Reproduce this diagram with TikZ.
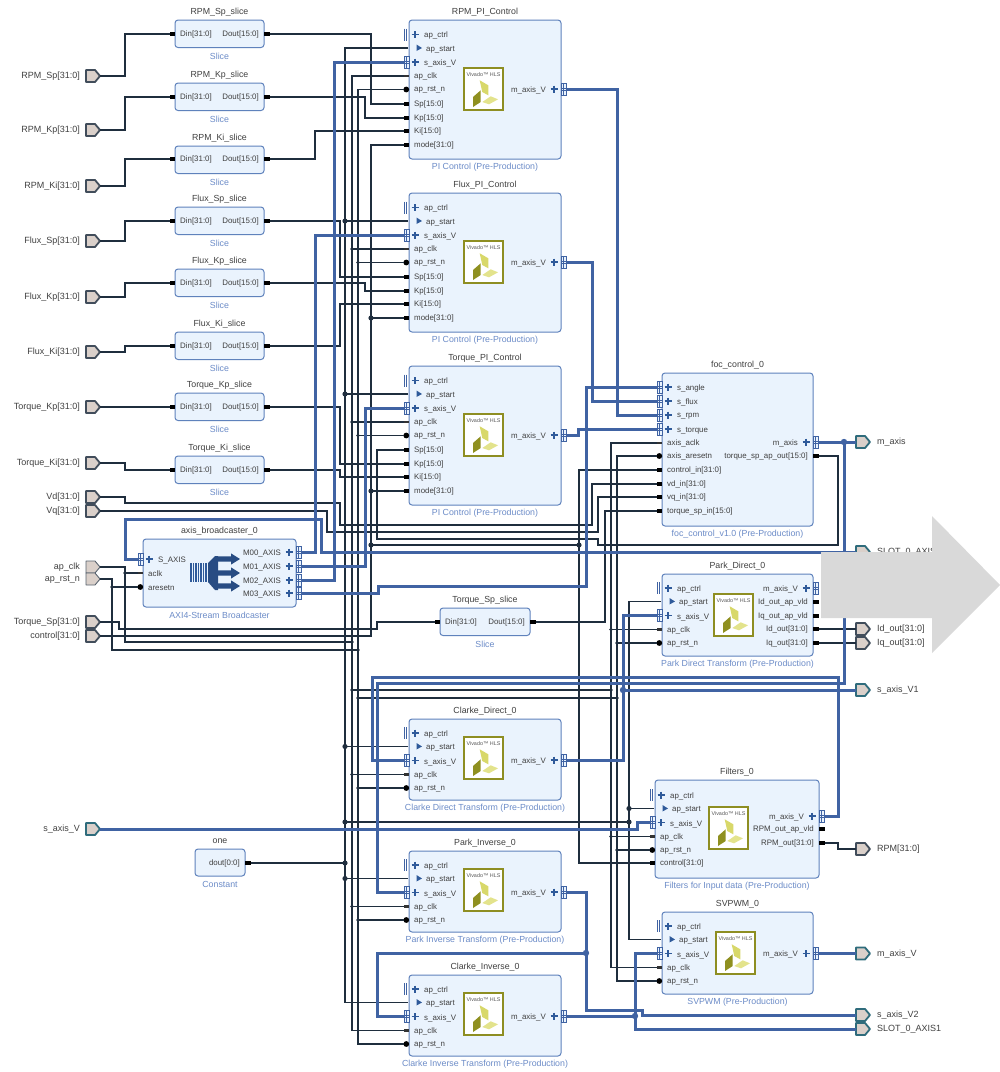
\documentclass[tikz,border=0pt]{standalone}
\usepackage{fontspec}
\setmainfont{Liberation Sans}
\definecolor{blockfill}{HTML}{EAF3FD}
\definecolor{blockedge}{HTML}{5F82BC}
\definecolor{txt}{HTML}{404040}
\definecolor{subc}{HTML}{6C8CC8}
\definecolor{wire}{HTML}{1F2E3E}
\definecolor{axib}{HTML}{4063A3}
\definecolor{plusc}{HTML}{2F5A9A}
\definecolor{tan}{HTML}{DAD0CA}
\definecolor{tealc}{HTML}{2F6C7C}
\definecolor{arrowg}{HTML}{D9D9D9}
\definecolor{logoedge}{HTML}{8E8E22}
\definecolor{logoa}{HTML}{D8D86A}
\definecolor{logob}{HTML}{8F9020}
\definecolor{logoc}{HTML}{E3E38C}
\tikzset{
  blockbox/.style={draw=blockedge,fill=blockfill,line width=1pt,rounded corners=3pt,inner sep=0pt,outer sep=0pt},
  blocktitle/.style={font=\fontsize{8.8}{9}\selectfont,text=txt,inner sep=0pt,yshift=-0.6pt},
  blocksub/.style={font=\fontsize{8.8}{9}\selectfont,text=subc,inner sep=0pt,yshift=-0.6pt},
  plabel/.style={font=\fontsize{7.9}{8}\selectfont,text=txt,inner sep=0pt,yshift=-0.6pt},
  extlabel/.style={font=\fontsize{9}{9}\selectfont,text=txt,inner sep=0pt,yshift=-0.6pt},
  bus/.style={draw=wire,line width=2.2pt},
  startbus/.style={draw=wire,line width=1.7pt},
  sig/.style={draw=wire,line width=1.05pt},
  axi/.style={draw=axib,line width=3pt},
  plusmark/.style={draw=plusc,line width=1.2pt},
  extbus/.style={draw=wire!85,fill=tan,line width=1.8pt,line join=round},
  extaxi/.style={draw=tealc,fill=tan,line width=1.8pt,line join=round},
  extsig/.style={draw=wire!75,fill=tan,line width=0.9pt,line join=round},
}
\newcommand{\jsig}[1]{\fill[wire] (#1) circle (1.8pt);}
\newcommand{\jbus}[1]{\fill[wire] (#1) circle (2.6pt);}
\newcommand{\jaxi}[1]{\fill[axib] (#1) circle (3.2pt);}
% block
\newcommand{\blk}[7]{%
  \pgfmathsetmacro{\blkW}{#4-#2}\pgfmathsetmacro{\blkH}{#5-#3}%
  \node[blockbox,anchor=north west,minimum width=\blkW pt,minimum height=\blkH pt] (#1) at (#2,#3) {};
  \node[blocktitle] (#1-title) at ({(#2+#4)/2},#3-8) {#6};
  \node[blocksub] (#1-sub) at ({(#2+#4)/2},#5+8) {#7};
}
\newcommand{\plusat}[2]{\draw[plusmark] (#1-3.5,#2) -- (#1+3.5,#2) (#1,#2-3.5) -- (#1,#2+3.5);}
\newcommand{\ifr}[2]{%
  \fill[blockfill] (#1,#2-6) rectangle (#1+5,#2+6);
  \draw[axib,line width=0.7pt] (#1,#2-6) rectangle (#1+5,#2+6);
  \draw[axib,line width=0.7pt] (#1,#2-1) -- (#1+5,#2-1) (#1,#2+1) -- (#1+5,#2+1) (#1+2.5,#2-6) -- (#1+2.5,#2+6);
}
% left ports: name, edge x, y, text
\newcommand{\pd}[4]{\coordinate (#1) at (#2-5,#3);\fill[black] (#2-5,#3-2) rectangle (#2,#3+2);
  \node[plabel,anchor=west] (#1-l) at (#2+5,#3) {#4};}
\newcommand{\pclk}[4]{\coordinate (#1) at (#2-5,#3);\fill[black!80] (#2-5,#3-1.3) rectangle (#2,#3+1.3);
  \node[plabel,anchor=west] (#1-l) at (#2+5,#3) {#4};}
\newcommand{\prst}[4]{\coordinate (#1) at (#2-5,#3);\fill[black] (#2-2.7,#3) circle (2.9pt);
  \node[plabel,anchor=west] (#1-l) at (#2+5,#3) {#4};}
\newcommand{\pstart}[4]{\coordinate (#1) at (#2-1,#3);
  \fill[plusc] (#2+7.5,#3-3.5) -- (#2+13,#3) -- (#2+7.5,#3+3) -- cycle;
  \node[plabel,anchor=west] (#1-l) at (#2+17,#3+1) {#4};}
\newcommand{\pax}[4]{\coordinate (#1) at (#2-5,#3);\ifr{#2-5}{#3}\plusat{#2+6}{#3}
  \node[plabel,anchor=west] (#1-l) at (#2+15,#3+1) {#4};}
\newcommand{\pctl}[4]{\coordinate (#1) at (#2-5,#3);
  \draw[axib,line width=0.9pt] (#2-5,#3-6) -- (#2-5,#3+6) (#2-2.6,#3-6) -- (#2-2.6,#3+6);\plusat{#2+6}{#3}
  \node[plabel,anchor=west] (#1-l) at (#2+15,#3+0.5) {#4};}
% right ports
\newcommand{\rd}[4]{\coordinate (#1) at (#2+6,#3);\fill[black] (#2,#3-2) rectangle (#2+6,#3+2);
  \node[plabel,anchor=east] (#1-l) at (#2-5,#3) {#4};}
\newcommand{\rax}[4]{\coordinate (#1) at (#2+5,#3);\ifr{#2}{#3}\plusat{#2-7}{#3}
  \node[plabel,anchor=east] (#1-l) at (#2-15,#3+0.5) {#4};}
% external ports
\newcommand{\extL}[4]{\draw[#4] (86,#2-6) -- (95,#2-6) -- (100,#2) -- (95,#2+6) -- (86,#2+6) -- cycle;
  \coordinate (#1) at (100,#2);\node[extlabel,anchor=east] (#1-l) at (80,#2) {#3};}
\newcommand{\extR}[4]{\draw[#4] (856,#2-6) -- (865,#2-6) -- (870,#2) -- (865,#2+6) -- (856,#2+6) -- cycle;
  \coordinate (#1) at (856,#2);\node[extlabel,anchor=west] (#1-l) at (877,#2) {#3};}
% slice
\newcommand{\slc}[6]{% id, x1, top, title, y-centre
  \blk{#1}{#2}{#3}{#2+#6}{#3+27.5}{#4}{Slice}
  \pd{#1-in}{#2}{#5}{Din[31:0]}
  \rd{#1-out}{#2+#6}{#5}{Dout[15:0]}
}
% logo
\newcommand{\lgo}[3]{%
  \begin{scope}[shift={(#2,#3)}]
  \draw[draw=logoedge,fill=white,line width=1.6pt] (0,0) rectangle (39,42);
  \node[inner sep=0pt,font=\fontsize{5.4}{5}\selectfont,text=black!65] (#1) at (19.5,7) {Vivado™ HLS};
  \fill[logoa] (15.7,12.3) -- (24.3,17.3) -- (24.3,27.3) -- (18.3,24) -- cycle;
  \fill[logob] (9,29) -- (16.7,22.3) -- (16.7,34) -- (9,39) -- cycle;
  \fill[logoc] (18.3,34) -- (26.7,28.3) -- (34,31.3) -- (25,36.3) -- cycle;
  \end{scope}}
% HLS common 5 ports
\newcommand{\hlsleft}[3]{% id, x, top of ports(y of ctrl)
  \pctl{#1-ctrl}{#2}{#3}{ap\_ctrl}
  \pstart{#1-start}{#2}{#3+13.5}{ap\_start}
  \pax{#1-sax}{#2}{#3+27.5}{s\_axis\_V}
  \pclk{#1-clk}{#2}{#3+41.5}{ap\_clk}
  \prst{#1-rst}{#2}{#3+55}{ap\_rst\_n}
}
\newcommand{\piblk}[3]{% id, top, title
  \blk{#1}{409}{#2}{561}{#2+139}{#3}{PI Control (Pre-Production)}
  \hlsleft{#1}{409}{#2+14.5}
  \pd{#1-sp}{409}{#2+84}{Sp[15:0]}
  \pd{#1-kp}{409}{#2+98}{Kp[15:0]}
  \pd{#1-ki}{409}{#2+111}{Ki[15:0]}
  \pd{#1-mode}{409}{#2+125}{mode[31:0]}
  \rax{#1-max}{561}{#2+69}{m\_axis\_V}
  \lgo{#1-logo}{464}{#2+48}
}
\newcommand{\trblk}[4]{% id, top, title, sub
  \blk{#1}{409}{#2}{561}{#2+81}{#3}{#4}
  \hlsleft{#1}{409}{#2+14}
  \rax{#1-max}{561}{#2+41}{m\_axis\_V}
  \lgo{#1-logo}{464}{#2+18}
}
\newcommand{\brn}[4]{% style, port, x, junction macro
  \coordinate (tmpx) at (#3,0);
  \draw[#1] (#2) -- (#2 -| tmpx);
  #4{#2 -| tmpx}
}
\begin{document}
\begin{tikzpicture}[x=1pt,y=-1pt]
\useasboundingbox (0,0) rectangle (1000,1072);
\fill[white] (0,0) rectangle (1000,1072);
% slices
\slc{rs}{175}{20}{RPM\_Sp\_slice}{34}{89}
\slc{rk}{175}{83}{RPM\_Kp\_slice}{97}{89}
\slc{ri}{175}{146}{RPM\_Ki\_slice}{159}{89}
\slc{fs}{175}{207}{Flux\_Sp\_slice}{221}{89}
\slc{fk}{175}{269}{Flux\_Kp\_slice}{283}{89}
\slc{fi}{175}{332}{Flux\_Ki\_slice}{346}{89}
\slc{tk}{175}{393}{Torque\_Kp\_slice}{407}{89}
\slc{ti}{175}{456}{Torque\_Ki\_slice}{470}{89}
\slc{ts}{440}{608}{Torque\_Sp\_slice}{622}{90}
% PI
\piblk{rpm}{20}{RPM\_PI\_Control}
\piblk{flux}{193}{Flux\_PI\_Control}
\piblk{trq}{366}{Torque\_PI\_Control}
% transforms
\trblk{cd}{719}{Clarke\_Direct\_0}{Clarke Direct Transform (Pre-Production)}
\trblk{pinv}{851}{Park\_Inverse\_0}{Park Inverse Transform (Pre-Production)}
\trblk{cinv}{975}{Clarke\_Inverse\_0}{Clarke Inverse Transform (Pre-Production)}
% foc
\blk{foc}{662}{373}{813}{526}{foc\_control\_0}{foc\_control\_v1.0 (Pre-Production)}
\pax{foc-angle}{662}{387}{s\_angle}
\pax{foc-flux}{662}{401}{s\_flux}
\pax{foc-rpm}{662}{415}{s\_rpm}
\pax{foc-torque}{662}{429}{s\_torque}
\pclk{foc-clk}{662}{443}{axis\_aclk}
\prst{foc-rst}{662}{456}{axis\_aresetn}
\pd{foc-ctl}{662}{470}{control\_in[31:0]}
\pd{foc-vd}{662}{484}{vd\_in[31:0]}
\pd{foc-vq}{662}{497}{vq\_in[31:0]}
\pd{foc-tin}{662}{511}{torque\_sp\_in[15:0]}
\rax{foc-max}{813}{442}{m\_axis}
\rd{foc-tout}{813}{456}{torque\_sp\_ap\_out[15:0]}
% park direct
\blk{pd}{662}{574}{813}{656}{Park\_Direct\_0}{Park Direct Transform (Pre-Production)}
\hlsleft{pd}{662}{588}
\rax{pd-max}{813}{588}{m\_axis\_V}
\rd{pd-idv}{813}{602}{Id\_out\_ap\_vld}
\rd{pd-iqv}{813}{616}{Iq\_out\_ap\_vld}
\rd{pd-id}{813}{629}{Id\_out[31:0]}
\rd{pd-iq}{813}{643}{Iq\_out[31:0]}
\lgo{pd-logo}{714}{594}
% filters
\blk{filt}{655}{780}{819}{878}{Filters\_0}{Filters for Input data (Pre-Production)}
\hlsleft{filt}{655}{795}
\pd{filt-ctl}{655}{863}{control[31:0]}
\rax{filt-max}{819}{816}{m\_axis\_V}
\rd{filt-vld}{819}{829}{RPM\_out\_ap\_vld}
\rd{filt-out}{819}{843}{RPM\_out[31:0]}
\lgo{filt-logo}{709}{807}
% svpwm
\blk{sv}{662}{912}{813}{994}{SVPWM\_0}{SVPWM (Pre-Production)}
\hlsleft{sv}{662}{926}
\rax{sv-max}{813}{953.5}{m\_axis\_V}
\lgo{sv-logo}{716}{932}
% broadcaster
\blk{bc}{143}{539}{296}{607}{axis\_broadcaster\_0}{AXI4-Stream Broadcaster}
\pax{bc-sax}{143}{559}{S\_AXIS}
\pclk{bc-clk}{143}{573}{aclk}
\prst{bc-rst}{143}{587}{aresetn}
\rax{bc-m0}{296}{552}{M00\_AXIS}
\rax{bc-m1}{296}{566}{M01\_AXIS}
\rax{bc-m2}{296}{580}{M02\_AXIS}
\rax{bc-m3}{296}{593}{M03\_AXIS}
\foreach \xx in {191,193.5,196,198.5,201,203.5,206}{\draw[plusc,line width=1.1pt] (\xx,563) -- (\xx,582);}
\fill[plusc!85!black] (208,563) -- (215,556) -- (218,556) -- (218,590) -- (215,590) -- (208,582) -- cycle;
\foreach \yy in {559,573,586}{\fill[plusc!85!black] (217,\yy-2.7) -- (231,\yy-2.7) -- (231,\yy-5.6) -- (240,\yy) -- (231,\yy+5.6) -- (231,\yy+2.7) -- (217,\yy+2.7) -- cycle;}
% constant
\blk{one}{195}{849}{245}{876}{one}{Constant}
\rd{one-out}{245}{863}{dout[0:0]}
% external left
\extL{xrs}{76}{RPM\_Sp[31:0]}{extbus}
\extL{xrk}{130}{RPM\_Kp[31:0]}{extbus}
\extL{xri}{186}{RPM\_Ki[31:0]}{extbus}
\extL{xfs}{241}{Flux\_Sp[31:0]}{extbus}
\extL{xfk}{297}{Flux\_Kp[31:0]}{extbus}
\extL{xfi}{352}{Flux\_Ki[31:0]}{extbus}
\extL{xtk}{407}{Torque\_Kp[31:0]}{extbus}
\extL{xti}{463}{Torque\_Ki[31:0]}{extbus}
\extL{xvd}{497}{Vd[31:0]}{extbus}
\extL{xvq}{511}{Vq[31:0]}{extbus}
\extL{xclk}{567}{ap\_clk}{extsig}
\extL{xrst}{579}{ap\_rst\_n}{extsig}
\extL{xts}{622}{Torque\_Sp[31:0]}{extbus}
\extL{xctl}{636}{control[31:0]}{extbus}
\extL{xsax}{829}{s\_axis\_V}{extaxi}
% external right
\extR{ymax}{442}{m\_axis}{extaxi}
\extR{yslot}{552}{SLOT\_0\_AXIS}{extaxi}
\extR{yid}{629}{Id\_out[31:0]}{extbus}
\extR{yiq}{643}{Iq\_out[31:0]}{extbus}
\extR{ysv1}{690}{s\_axis\_V1}{extaxi}
\extR{yrpm}{849}{RPM[31:0]}{extbus}
\extR{ymv}{953.5}{m\_axis\_V}{extaxi}
\extR{ysv2}{1015}{s\_axis\_V2}{extaxi}
\extR{yslot1}{1029}{SLOT\_0\_AXIS1}{extaxi}
% slice inputs
\draw[bus] (xrs) -- (125,76) -- (125,34) -- (rs-in);
\draw[bus] (xrk) -- (125,130) -- (125,97) -- (rk-in);
\draw[bus] (xri) -- (125,186) -- (125,159) -- (ri-in);
\draw[bus] (xfs) -- (125,241) -- (125,221) -- (fs-in);
\draw[bus] (xfk) -- (125,297) -- (125,283) -- (fk-in);
\draw[bus] (xfi) -- (125,352) -- (125,346) -- (fi-in);
\draw[bus] (xtk) -- (tk-in);
\draw[bus] (xti) -- (125,463) -- (125,470) -- (ti-in);
% slice outputs to PI
\draw[bus] (rs-out) -- (371,34) -- (371,104) -- (rpm-sp);
\draw[bus] (rk-out) -- (365,97) -- (365,118) -- (rpm-kp);
\draw[bus] (ri-out) -- (315,159) -- (315,131) -- (rpm-ki);
\draw[bus] (fs-out) -- (340,221) -- (340,277) -- (flux-sp);
\draw[bus] (fk-out) -- (365,283) -- (365,291) -- (flux-kp);
\draw[bus] (fi-out) -- (340,346) -- (340,304) -- (flux-ki);
\draw[bus] (tk-out) -- (340,407) -- (340,464) -- (trq-kp);
\draw[bus] (ti-out) -- (340,470) -- (340,477) -- (trq-ki);
% control / mode
\draw[bus] (rpm-mode) -- (371,145) -- (371,636) -- (xctl);
\brn{bus}{flux-mode}{371}{\jbus}
\brn{bus}{trq-mode}{371}{\jbus}
\draw[bus] (371,545) -- (579,545);
\jbus{371,545}\jbus{579,545}
\draw[bus] (foc-ctl) -- (579,470) -- (579,863) -- (filt-ctl);
% Vd Vq
\draw[bus] (xvd) -- (125,497) -- (125,503) -- (340,503) -- (340,525) -- (592,525) -- (592,484) -- (foc-vd);
\draw[bus] (xvq) -- (327,511) -- (327,532) -- (598,532) -- (598,497) -- (foc-vq);
% torque
\draw[bus] (foc-tout) -- (838,456) -- (838,545) -- (598,545) -- (598,539) -- (377,539) -- (377,450) -- (trq-sp);
\draw[bus] (ts-out) -- (605,622) -- (605,511) -- (foc-tin);
\draw[bus] (xts) -- (119,622) -- (119,629) -- (377,629) -- (377,622) -- (ts-in);
% ap_start
\draw[startbus] (rpm-start) -- (345,48) -- (345,1002.5) -- (cinv-start);
\brn{startbus}{flux-start}{345}{\jbus}
\brn{startbus}{trq-start}{345}{\jbus}
\brn{startbus}{cd-start}{345}{\jbus}
\brn{startbus}{pinv-start}{345}{\jbus}
\draw[startbus] (one-out) -- (345,863);\jbus{345,863}
\draw[startbus] (345,822) -- (629,822);\jbus{345,822}\jbus{629,822}
\draw[startbus] (pd-start) -- (629,601.5) -- (629,939.5) -- (sv-start);
\brn{startbus}{filt-start}{629}{\jbus}
% clocks
\draw[sig] (rpm-clk) -- (352,76) -- (352,1030.5) -- (cinv-clk);
\foreach \pp in {flux,trq,cd,pinv}{\brn{sig}{\pp-clk}{352}{\jsig}}
\draw[sig] (rpm-rst) -- (358,89.5) -- (358,1044) -- (cinv-rst);
\foreach \pp in {flux,trq,cd,pinv}{\brn{sig}{\pp-rst}{358}{\jsig}}
\draw[sig] (xclk) -- (125,567) -- (125,642) -- (352,642);\jsig{352,642}
\brn{sig}{bc-clk}{125}{\jsig}
\draw[sig] (xrst) -- (112,579) -- (112,650) -- (358,650);\jsig{358,650}
\brn{sig}{bc-rst}{112}{\jsig}
\draw[sig] (352,690) -- (611,690);\jsig{352,690}\jsig{611,690}
\draw[sig] (358,698) -- (617,698);\jsig{358,698}\jsig{617,698}
\draw[sig] (foc-clk) -- (611,443) -- (611,967.5) -- (sv-clk);
\draw[sig] (foc-rst) -- (617,456) -- (617,981) -- (sv-rst);
\brn{sig}{pd-clk}{611}{\jsig}
\brn{sig}{pd-rst}{617}{\jsig}
\brn{sig}{filt-clk}{611}{\jsig}
\brn{sig}{filt-rst}{617}{\jsig}
% right side data
\draw[bus] (pd-id) -- (yid);
\draw[bus] (pd-iq) -- (yiq);
\draw[bus] (filt-out) -- (838,843) -- (838,849) -- (yrpm);
% AXI
\draw[axi] (bc-sax) -- (125,559) -- (125,519) -- (321,519) -- (321,552) -- (yslot);
\draw[axi] (bc-m0) -- (315,552) -- (315,235) -- (flux-sax);
\draw[axi] (bc-m1) -- (365,566) -- (365,408) -- (trq-sax);
\draw[axi] (bc-m2) -- (334,580) -- (334,62) -- (rpm-sax);
\draw[axi] (bc-m3) -- (378,593) -- (378,586) -- (586,586) -- (586,387) -- (foc-angle);
\draw[axi] (rpm-max) -- (617,89) -- (617,415) -- (foc-rpm);
\draw[axi] (flux-max) -- (592,262) -- (592,401) -- (foc-flux);
\draw[axi] (trq-max) -- (578,435) -- (578,429) -- (foc-torque);
\draw[axi] (foc-max) -- (ymax);
\jaxi{844,442}
\draw[axi] (844,442) -- (844,683) -- (377,683) -- (377,892.5) -- (pinv-sax);
\draw[axi] (filt-max) -- (838,816) -- (838,677) -- (372,677) -- (372,760.5) -- (cd-sax);
\draw[axi] (cd-max) -- (623,760) -- (623,615.5) -- (pd-sax);
\jaxi{623,690}
\draw[axi] (623,690) -- (ysv1);
\draw[axi] (pinv-max) -- (586,892) -- (586,1010) -- (642,1010) -- (642,1015) -- (ysv2);
\jaxi{586,953}
\draw[axi] (586,953) -- (377,953) -- (377,1016.5) -- (cinv-sax);
\draw[axi] (cinv-max) -- (635,1016);\jaxi{635,1016}
\draw[axi] (sv-sax) -- (635,953.5) -- (635,1029) -- (yslot1);
\draw[axi] (sv-max) -- (ymv);
\draw[axi] (xsax) -- (637,829) -- (637,822.5) -- (filt-sax);
% overlay arrow
\fill[arrowg] (821,552) -- (932,552) -- (932,516) -- (1000,585) -- (932,653) -- (932,618) -- (821,618) -- cycle;
\end{tikzpicture}
\end{document}
